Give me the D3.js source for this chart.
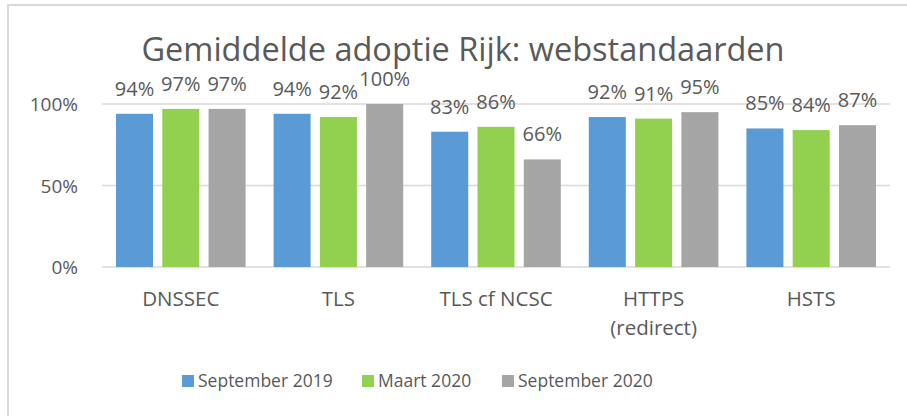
<!DOCTYPE html>
<html>
<head>
<meta charset="utf-8">
<script src="https://cdn.jsdelivr.net/npm/d3@7"></script>
<style>
  body { margin: 0; background: #fff; }
  text { font-family: "Open Sans", sans-serif; fill: #595959; }
</style>
</head>
<body>
<svg id="chart" width="907" height="416"></svg>
<script>
const categories = ["DNSSEC", "TLS", "TLS cf NCSC", "HTTPS\n(redirect)", "HSTS"]
const seriesNames = ["September 2019", "Maart 2020", "September 2020"]
const sep2019 = [94, 94, 83, 92, 85]
const mrt2020 = [97, 92, 86, 91, 84]
const sep2020 = [97, 100, 66, 95, 87]
const yTicks = [0, 50, 100]
const colors = ["#5B9BD5", "#92D050", "#A5A5A5"]

const series = [sep2019, mrt2020, sep2020]
const rows = categories.map((c, i) => ({cat: c, vals: series.map(s => s[i])}))

const svg = d3.select('#chart')

// frame (cropped at right/bottom in reference)
svg.append('rect')
    .attr('x', 8).attr('y', 5)
    .attr('width', 1000).attr('height', 1000)
    .attr('fill', 'none')
    .attr('stroke', '#D9D9D9')
    .attr('stroke-width', 2)

const plotL = 102, plotR = 890, plotT = 104, plotB = 267

const x0 = d3.scaleBand().domain(categories).range([plotL, plotR])
const x1 = d3.scaleBand().domain(d3.range(3))
    .range([14, x0.bandwidth() - 14])
    .paddingInner(0.2)
const y = d3.scaleLinear().domain([0, 100]).range([plotB, plotT])

// gridlines
svg.append('g')
    .selectAll('line')
    .data(yTicks)
    .join('line')
    .attr('x1', plotL).attr('x2', plotR)
    .attr('y1', d => y(d)).attr('y2', d => y(d))
    .attr('stroke', '#D9D9D9')
    .attr('stroke-width', 1.5)

// y labels
svg.append('g')
    .selectAll('text')
    .data(yTicks)
    .join('text')
    .attr('x', 78)
    .attr('y', d => y(d) + 7)
    .attr('text-anchor', 'end')
    .attr('font-size', 19)
    .text(d => d + '%')

// bars
const groups = svg.append('g')
    .selectAll('g')
    .data(rows)
    .join('g')
    .attr('transform', d => `translate(${x0(d.cat)},0)`)

groups.selectAll('rect')
    .data(d => d.vals)
    .join('rect')
    .attr('x', (d, i) => x1(i))
    .attr('width', x1.bandwidth())
    .attr('y', d => y(d))
    .attr('height', d => plotB - y(d))
    .attr('fill', (d, i) => colors[i])

// value labels
groups.selectAll('text')
    .data(d => d.vals)
    .join('text')
    .attr('x', (d, i) => x1(i) + x1.bandwidth() / 2)
    .attr('y', d => y(d) - 18)
    .attr('text-anchor', 'middle')
    .attr('font-size', 20)
    .text(d => d + '%')

// category labels
svg.append('g')
    .selectAll('text')
    .data(categories)
    .join('text')
    .attr('x', d => x0(d) + x0.bandwidth() / 2)
    .attr('y', 306)
    .attr('text-anchor', 'middle')
    .attr('font-size', 20.5)
    .selectAll('tspan')
    .data(d => d.split('\n'))
    .join('tspan')
    .attr('x', function() { return this.parentNode.getAttribute('x') })
    .attr('dy', (d, i) => i ? 29 : 0)
    .text(d => d)

// title
svg.append('text')
    .attr('x', 463)
    .attr('y', 61)
    .attr('text-anchor', 'middle')
    .attr('font-size', 32.5)
    .text('Gemiddelde adoptie Rijk: webstandaarden')

// legend
const legendX = [182, 362, 502]
const legend = svg.append('g')
    .selectAll('g')
    .data(seriesNames)
    .join('g')
    .attr('transform', (d, i) => `translate(${legendX[i]},375)`)
legend.append('rect')
    .attr('width', 12).attr('height', 12)
    .attr('fill', (d, i) => colors[i])
legend.append('text')
    .attr('x', 16).attr('y', 12)
    .attr('font-size', 17.5)
    .text(d => d)
</script>
</body>
</html>
